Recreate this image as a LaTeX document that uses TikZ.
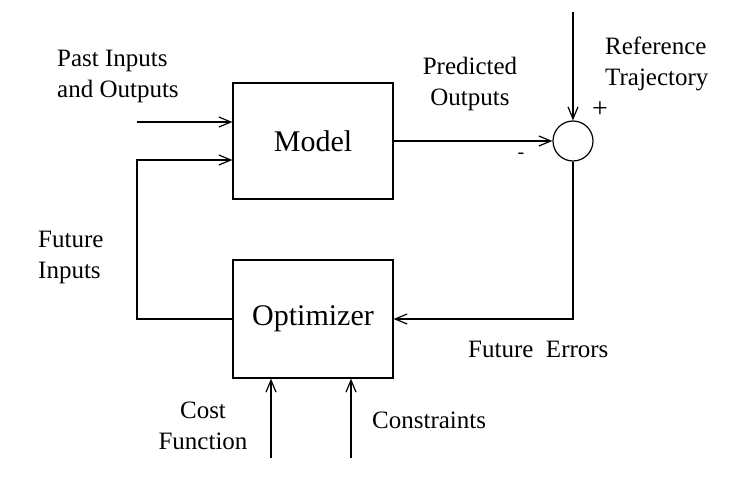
\documentclass[tikz,border=0pt]{standalone}
\usepackage{fontspec}
\setmainfont{Liberation Serif}
\usetikzlibrary{arrows.meta,positioning}

\begin{document}
\begin{tikzpicture}[
  x=1pt, y=-1pt,
  block/.style={draw=black, line width=1.2pt, minimum width=160pt, font=\fontsize{30}{36}\selectfont},
  label/.style={inner sep=0pt, align=left, font=\fontsize{25}{31}\selectfont},
  sign/.style={inner sep=0pt, font=\fontsize{28}{32}\selectfont},
  flow/.style={draw=black, line width=1.2pt, -{Straight Barb[length=12pt, width=10pt, line width=1.2pt]}},
  wire/.style={draw=black, line width=1.2pt}
]
\useasboundingbox (0,0) rectangle (745,479);
\node[block, minimum height=116pt] (model) at (313,141) {Model};
\node[block, minimum height=118pt] (optimizer) at (313,319) {Optimizer};
\node[draw=black, line width=1.2pt, circle, minimum size=40pt, inner sep=0pt] (sum) at (573,141) {};
% free ends
\coordinate (pastin) at (137,122);
\coordinate (refin) at (573,12);
\coordinate (costin) at (271,458);
\coordinate (consin) at (351,458);
% connectors
\draw[flow] (pastin) -- (pastin -| model.west);
\draw[flow] (optimizer.west) -| (137,160) -- ([yshift=-19pt]model.west);
\draw[flow] (model.east) -- (sum.west);
\draw[flow] (refin) -- (sum.north);
\draw[flow] (sum.south) |- (optimizer.east);
\draw[flow] (costin) -- (costin |- optimizer.south);
\draw[flow] (consin) -- (consin |- optimizer.south);
% labels
\node[label, anchor=base west] (pastlbl) at (57,97) {Past Inputs\\and Outputs};
\node[label, anchor=base, align=center] (predlbl) at (470,105) {Predicted\\Outputs};
\node[label, anchor=base west] (reflbl) at (605,85) {Reference\\Trajectory};
\node[label, anchor=base west] (futinlbl) at (38,278) {Future\\Inputs};
\node[label, anchor=base west] (errlbl) at (468,357) {Future~~Errors};
\node[label, anchor=base, align=center] (costlbl) at (203,449) {Cost\\Function};
\node[label, anchor=base west] (conslbl) at (372,428) {Constraints};
\node[sign] (plus) at (600,110) {+};
\node[sign, font=\fontsize{20}{24}\selectfont] (minus) at (521,156) {-};
\end{tikzpicture}
\end{document}
